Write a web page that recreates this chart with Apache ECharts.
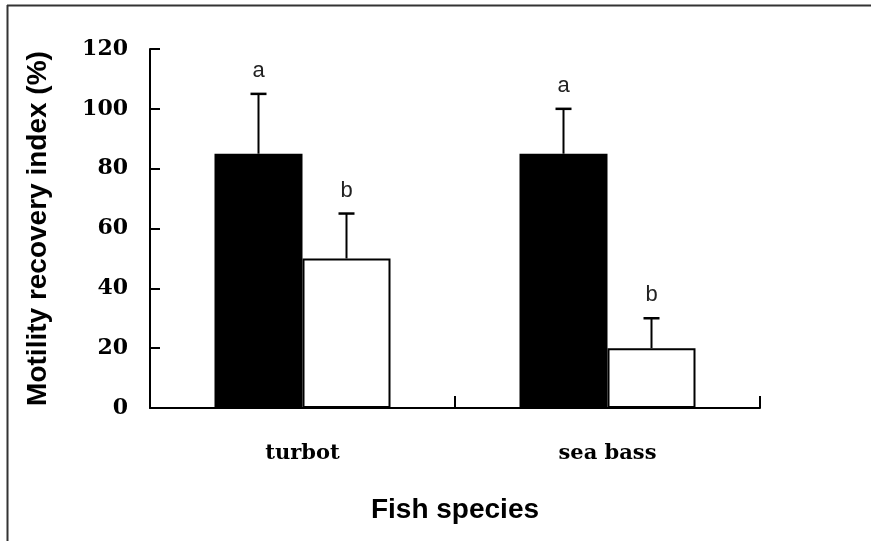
<!DOCTYPE html>
<html>
<head>
<meta charset="utf-8">
<script src="https://cdn.jsdelivr.net/npm/echarts@6/dist/echarts.min.js"></script>
<style>
  html, body { margin: 0; padding: 0; background: #fff; }
  #chart { width: 871px; height: 541px; }
</style>
</head>
<body>
<div id="chart"></div>
<script>
// Motility recovery index per fish species: two treatments (black / white bars)
// with upward-only SD whiskers and significance letters above them.
const categories = ["turbot", "sea bass"];
const blackValues = [85, 85];
const blackErrors = [20, 15];
const whiteValues = [50, 20];
const whiteErrors = [15, 10];
const blackLetters = ["a", "a"];
const whiteLetters = ["b", "b"];
const yTicks = { min: 0, max: 120, interval: 20 };

const BAR_W = 88;
const INK = "#000";

// whisker + cap + letter, drawn at the centre of the bar (offset from category centre)
function whisker(offset, letters) {
  return (params, api) => {
    const i = api.value(0), v = api.value(1), e = api.value(2);
    const base = api.coord([i, v]);
    const top = api.coord([i, v + e]);
    const x = base[0] + offset;
    return {
      type: "group",
      children: [
        { type: "line", shape: { x1: x, y1: base[1], x2: x, y2: top[1] }, style: { stroke: INK, lineWidth: 2 } },
        { type: "line", shape: { x1: x - 8, y1: top[1], x2: x + 8, y2: top[1] }, style: { stroke: INK, lineWidth: 2.5 } },
        { type: "text", style: { text: letters[params.dataIndex], x: x, y: top[1] - 12,
            align: "center", verticalAlign: "bottom", fill: "#222",
            fontFamily: "Liberation Sans", fontSize: 22 } },
      ],
    };
  };
}

const chart = echarts.init(document.getElementById("chart"));
chart.setOption({
  animation: false,
  backgroundColor: "#fff",
  grid: { left: 150, right: 111, top: 49, bottom: 133 },
  graphic: [
    { type: "line", shape: { x1: 7, y1: 5.5, x2: 871, y2: 5.5 }, style: { stroke: "#333", lineWidth: 2 } },
    { type: "line", shape: { x1: 7.5, y1: 5, x2: 7.5, y2: 541 }, style: { stroke: "#333", lineWidth: 2 } },
  ],
  xAxis: {
    type: "category", data: categories, boundaryGap: true,
    name: "Fish species", nameLocation: "middle", nameGap: 88,
    nameTextStyle: { color: INK, fontFamily: "Liberation Sans", fontWeight: "bold", fontSize: 28 },
    axisLine: { lineStyle: { color: INK, width: 2 } },
    axisTick: { show: true, interval: 0, inside: true, length: 12, lineStyle: { color: INK, width: 2 } },
    axisLabel: { color: INK, fontFamily: "DejaVu Serif", fontWeight: "bold", fontSize: 21, margin: 35 },
    splitLine: { show: false },
  },
  yAxis: {
    type: "value", min: yTicks.min, max: yTicks.max, interval: yTicks.interval,
    name: "Motility recovery index (%)", nameLocation: "middle", nameRotate: 90, nameGap: 98,
    nameTextStyle: { color: INK, fontFamily: "Liberation Sans", fontWeight: "bold", fontSize: 28 },
    axisLine: { show: true, lineStyle: { color: INK, width: 2 } },
    axisTick: { show: true, inside: true, length: 10, lineStyle: { color: INK, width: 2 } },
    axisLabel: { color: INK, fontFamily: "DejaVu Serif", fontWeight: "bold", fontSize: 22, margin: 22 },
    splitLine: { show: false },
  },
  series: [
    { name: "black", type: "bar", data: blackValues, barWidth: BAR_W, barGap: "0%",
      itemStyle: { color: INK, borderColor: INK, borderWidth: 1.5 }, z: 2 },
    { name: "white", type: "bar", data: whiteValues, barWidth: BAR_W, barGap: "0%",
      itemStyle: { color: "#fff", borderColor: INK, borderWidth: 2 }, z: 2 },
    { type: "custom", renderItem: whisker(-BAR_W / 2, blackLetters), z: 3,
      data: blackValues.map((v, i) => [i, v, blackErrors[i]]), encode: { x: 0, y: 1 } },
    { type: "custom", renderItem: whisker(BAR_W / 2, whiteLetters), z: 3,
      data: whiteValues.map((v, i) => [i, v, whiteErrors[i]]), encode: { x: 0, y: 1 } },
  ],
});
</script>
</body>
</html>
